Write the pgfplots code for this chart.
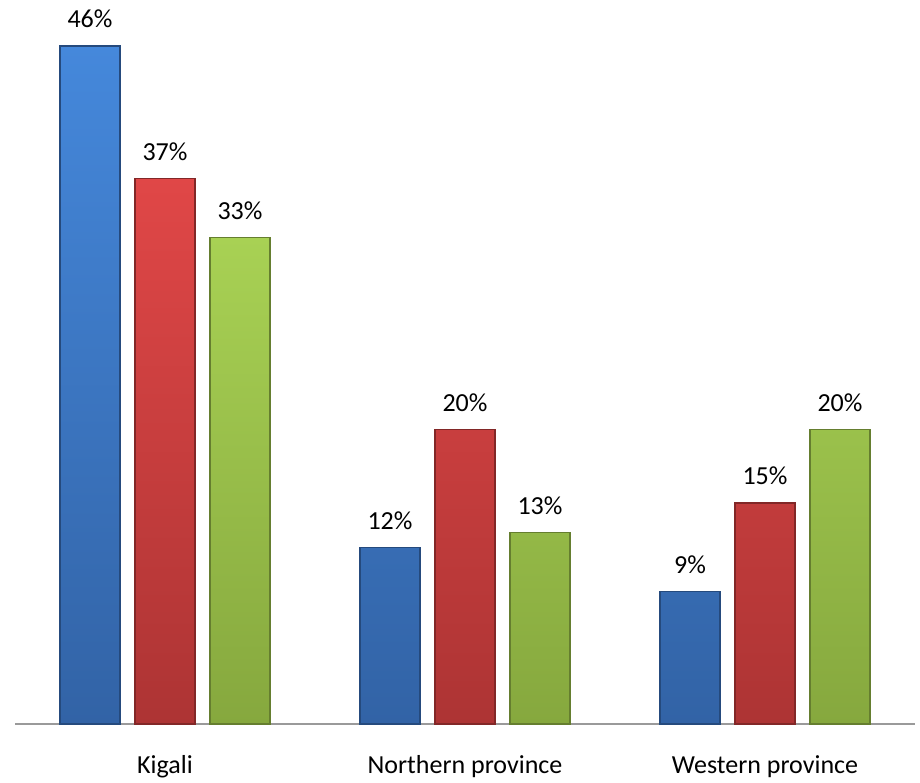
\documentclass[border=0pt]{standalone}
\usepackage{pgfplots}
\pgfplotsset{compat=1.18}
\usepackage{fontspec}
\setmainfont{Carlito}

\definecolor{blueTop}{HTML}{4588DB}
\definecolor{blueBot}{HTML}{3263A6}
\definecolor{redTop}{HTML}{E04747}
\definecolor{redBot}{HTML}{AD3434}
\definecolor{greenTop}{HTML}{A8D154}
\definecolor{greenBot}{HTML}{86A83E}
\definecolor{axisgray}{HTML}{9A9A9A}

\newcommand{\labelfont}{\fontsize{13}{15}\selectfont}

\begin{document}
\begin{tikzpicture}
\begin{axis}[
  at={(7.5pt,29pt)}, anchor=south west,
  scale only axis,
  width=450pt, height=362pt,
  xmin=-0.5, xmax=2.5,
  ymin=0, ymax=49.12,
  ybar=7.5pt,
  bar width=0.2,
  axis x line*=bottom,
  axis y line=none,
  x axis line style={draw=axisgray, line width=0.8pt, -},
  xtick={0,1,2},
  xticklabels={Kigali, Northern province, Western province},
  major tick length=0pt,
  xticklabel style={font=\labelfont, anchor=base, yshift=-24.5pt},
  ytick=\empty,
  clip=false,
  /pgf/number format/assume math mode=true,
  nodes near coords={\pgfmathprintnumber{\pgfplotspointmeta}\%},
  every node near coord/.append style={font=\labelfont, anchor=base, yshift=9pt},
]
\addplot[top color=blueTop, bottom color=blueBot,
         draw=blueBot!75!black, line width=0.6pt]
  coordinates {(0,46) (1,12) (2,9)};
\addplot[top color=redTop, bottom color=redBot,
         draw=redBot!75!black, line width=0.6pt]
  coordinates {(0,37) (1,20) (2,15)};
\addplot[top color=greenTop, bottom color=greenBot,
         draw=greenBot!75!black, line width=0.6pt]
  coordinates {(0,33) (1,13) (2,20)};
\end{axis}
\pgfresetboundingbox
\path[use as bounding box] (0,0) rectangle (460pt,391pt);
\end{tikzpicture}
\end{document}
